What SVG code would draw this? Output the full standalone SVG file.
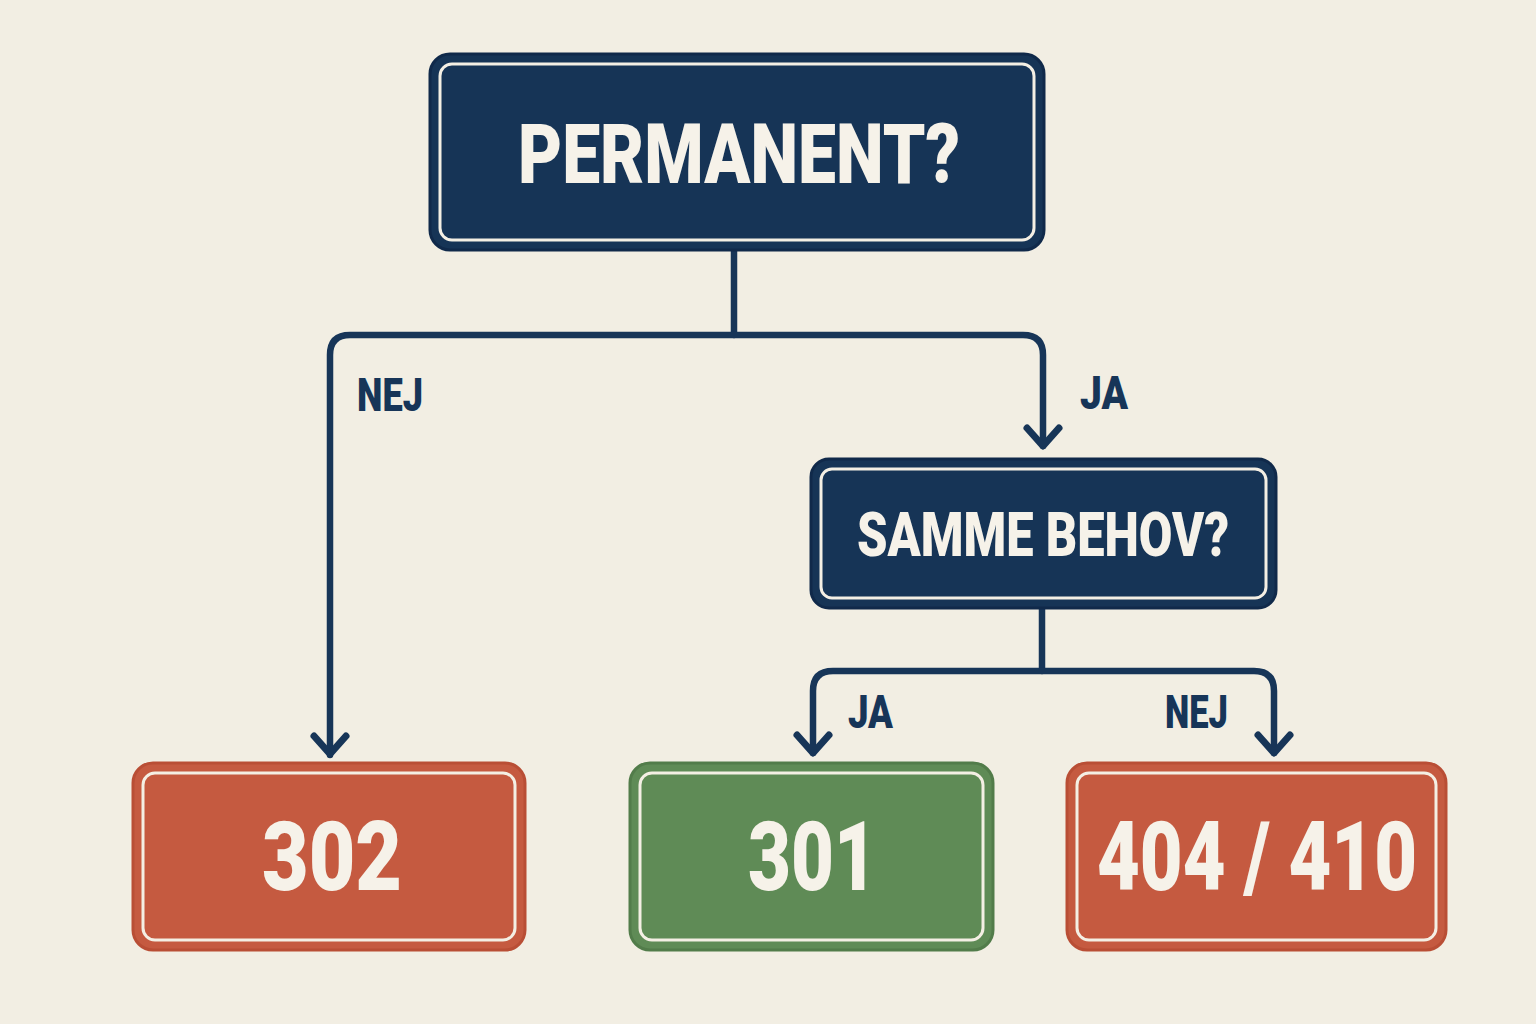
<svg xmlns="http://www.w3.org/2000/svg" width="1536" height="1024" viewBox="0 0 1536 1024">
  <defs>
    <style>
      .bg { fill: #f2eee3; }
      .q { fill: #163456; stroke: #10294a; stroke-width: 3; }
      .red { fill: #c55a40; stroke: #b94e35; stroke-width: 3; }
      .green { fill: #5f8b56; stroke: #527c4a; stroke-width: 3; }
      .inner { fill: none; stroke: #f4efe4; stroke-width: 3; }
      .t { font-family: "Roboto", "Liberation Sans", sans-serif; font-weight: 900; fill: #f6f2e9; }
      .lbl { font-family: "Roboto", "Liberation Sans", sans-serif; font-weight: 900; fill: #173558; font-size: 46px; }
      .wire { fill: none; stroke: #173558; stroke-width: 6.5; stroke-linecap: round; stroke-linejoin: round; }
      .head { fill: none; stroke: #173558; stroke-width: 7; stroke-linecap: round; stroke-linejoin: round; }
    </style>
  </defs>
  <rect class="bg" x="0" y="0" width="1536" height="1024"/>

  <g id="connectors">
    <path class="wire" d="M734 250 V335"/>
    <path class="wire" d="M330 755 V355 Q330 335 350 335 H1023 Q1043 335 1043 355 V446"/>
    <path class="head" d="M314 736 L330 754 L346 736"/>
    <path class="head" d="M1027 428 L1043 446 L1059 428"/>
    <path class="wire" d="M1042 608 V671"/>
    <path class="wire" d="M813 753 V691 Q813 671 833 671 H1254 Q1274 671 1274 691 V753"/>
    <path class="head" d="M797 735 L813 753 L829 735"/>
    <path class="head" d="M1258 735 L1274 753 L1290 735"/>
    <text class="lbl" x="357" y="411" textLength="66" lengthAdjust="spacingAndGlyphs">NEJ</text>
    <text class="lbl" x="1080" y="409" textLength="48" lengthAdjust="spacingAndGlyphs">JA</text>
    <text class="lbl" x="848" y="728" textLength="45" lengthAdjust="spacingAndGlyphs">JA</text>
    <text class="lbl" x="1165" y="728" textLength="63" lengthAdjust="spacingAndGlyphs">NEJ</text>
  </g>

  <g id="node-permanent">
    <rect class="q" x="430" y="54" width="614" height="196" rx="20"/>
    <rect class="inner" x="440" y="64" width="594" height="176" rx="12"/>
    <text class="t" x="518" y="183" font-size="83" textLength="442" lengthAdjust="spacingAndGlyphs">PERMANENT?</text>
  </g>

  <g id="node-samme">
    <rect class="q" x="811" y="459" width="465" height="149" rx="18"/>
    <rect class="inner" x="821" y="469" width="445" height="129" rx="11"/>
    <text class="t" x="857" y="556" font-size="61" textLength="372" lengthAdjust="spacingAndGlyphs">SAMME BEHOV?</text>
  </g>

  <g id="node-302">
    <rect class="red" x="133" y="763" width="392" height="187" rx="20"/>
    <rect class="inner" x="143" y="773" width="372" height="167" rx="12"/>
    <text class="t" x="262" y="890" font-size="96" textLength="140" lengthAdjust="spacingAndGlyphs">302</text>
  </g>

  <g id="node-301">
    <rect class="green" x="630" y="763" width="363" height="187" rx="20"/>
    <rect class="inner" x="640" y="773" width="343" height="167" rx="12"/>
    <text class="t" x="748" y="890" font-size="96" textLength="129" lengthAdjust="spacingAndGlyphs">301</text>
  </g>

  <g id="node-404">
    <rect class="red" x="1067" y="763" width="379" height="187" rx="20"/>
    <rect class="inner" x="1077" y="773" width="359" height="167" rx="12"/>
    <text class="t" x="1097" y="890" font-size="96" textLength="320" lengthAdjust="spacingAndGlyphs">404 / 410</text>
  </g>
</svg>
